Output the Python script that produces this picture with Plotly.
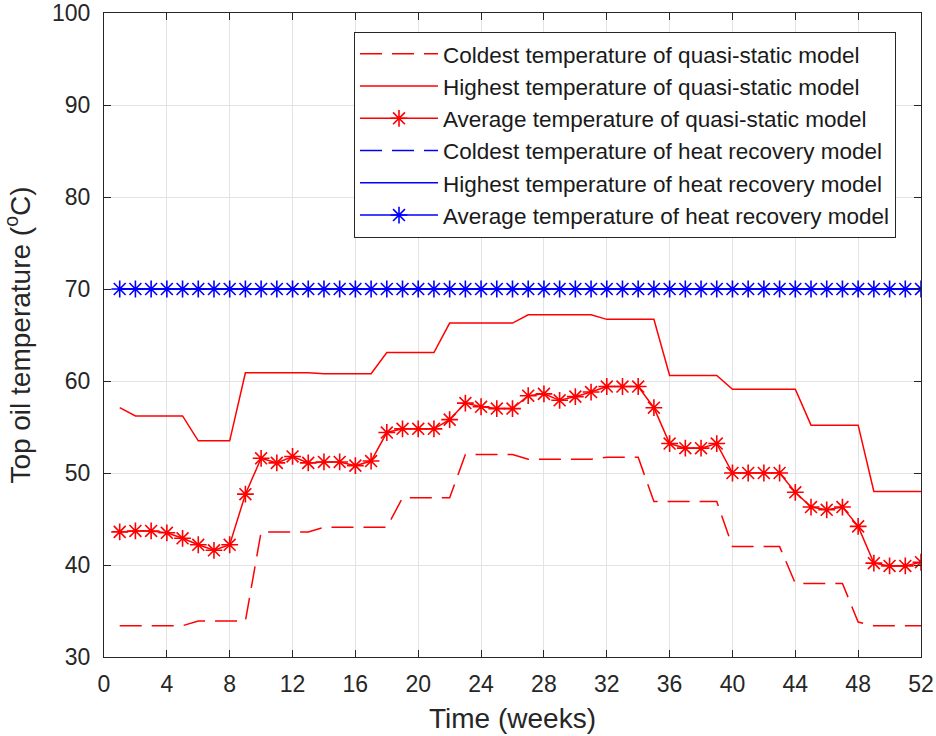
import plotly.graph_objects as go

weeks = [1, 2, 3, 4, 5, 6, 7, 8, 9, 10, 11, 12, 13, 14, 15, 16, 17, 18, 19, 20,
         21, 22, 23, 24, 25, 26, 27, 28, 29, 30, 31, 32, 33, 34, 35, 36, 37, 38, 39, 40,
         41, 42, 43, 44, 45, 46, 47, 48, 49, 50, 51, 52]

qs_coldest = [33.4, 33.4, 33.4, 33.4, 33.4, 33.9, 33.9, 33.9, 33.9, 43.6,
              43.6, 43.6, 43.6, 44.1, 44.1, 44.1, 44.1, 44.1, 47.3, 47.3,
              47.3, 47.3, 52.0, 52.0, 52.0, 52.0, 51.5, 51.5, 51.5, 51.5,
              51.5, 51.7, 51.7, 51.7, 46.9, 46.9, 46.9, 46.9, 46.9, 42.0,
              42.0, 42.0, 42.0, 38.0, 38.0, 38.0, 38.0, 33.8, 33.4, 33.4,
              33.4, 33.4]

qs_highest = [57.1, 56.2, 56.2, 56.2, 56.2, 53.5, 53.5, 53.5, 60.9, 60.9,
              60.9, 60.9, 60.9, 60.8, 60.8, 60.8, 60.8, 63.1, 63.1, 63.1,
              63.1, 66.3, 66.3, 66.3, 66.3, 66.3, 67.2, 67.2, 67.2, 67.2,
              67.2, 66.7, 66.7, 66.7, 66.7, 60.6, 60.6, 60.6, 60.6, 59.1,
              59.1, 59.1, 59.1, 59.1, 55.2, 55.2, 55.2, 55.2, 48.0, 48.0,
              48.0, 48.0]

qs_average = [43.6, 43.7, 43.7, 43.5, 42.9, 42.2, 41.6, 42.2, 47.7, 51.6,
              51.1, 51.8, 51.1, 51.2, 51.2, 50.8, 51.3, 54.4, 54.8, 54.8,
              54.8, 55.8, 57.6, 57.2, 57.0, 57.0, 58.4, 58.6, 57.9, 58.3,
              58.8, 59.4, 59.4, 59.4, 57.1, 53.2, 52.7, 52.7, 53.2, 50.0,
              50.0, 50.0, 50.0, 47.9, 46.3, 46.0, 46.3, 44.2, 40.2, 39.9,
              39.9, 40.3]

hr_coldest = [70, 70, 70, 70, 70, 70, 70, 70, 70, 70, 70, 70, 70, 70, 70, 70, 70, 70, 70, 70,
              70, 70, 70, 70, 70, 70, 70, 70, 70, 70, 70, 70, 70, 70, 70, 70, 70, 70, 70, 70,
              70, 70, 70, 70, 70, 70, 70, 70, 70, 70, 70, 70]
hr_highest = [70, 70, 70, 70, 70, 70, 70, 70, 70, 70, 70, 70, 70, 70, 70, 70, 70, 70, 70, 70,
              70, 70, 70, 70, 70, 70, 70, 70, 70, 70, 70, 70, 70, 70, 70, 70, 70, 70, 70, 70,
              70, 70, 70, 70, 70, 70, 70, 70, 70, 70, 70, 70]
hr_average = [70, 70, 70, 70, 70, 70, 70, 70, 70, 70, 70, 70, 70, 70, 70, 70, 70, 70, 70, 70,
              70, 70, 70, 70, 70, 70, 70, 70, 70, 70, 70, 70, 70, 70, 70, 70, 70, 70, 70, 70,
              70, 70, 70, 70, 70, 70, 70, 70, 70, 70, 70, 70]

names = [
    "Coldest temperature of quasi-static model",
    "Highest temperature of quasi-static model",
    "Average temperature of quasi-static model",
    "Coldest temperature of heat recovery model",
    "Highest temperature of heat recovery model",
    "Average temperature of heat recovery model",
]

x_ticks = [0, 4, 8, 12, 16, 20, 24, 28, 32, 36, 40, 44, 48, 52]
y_ticks = [30, 40, 50, 60, 70, 80, 90, 100]

RED = "#ff0000"
BLUE = "#0000ff"
DASH = "22px,10px"
FONT = "Liberation Sans, Arial, sans-serif"
TXT = "#262626"

fig = go.Figure()

series = [
    (qs_coldest, RED, DASH, False),
    (qs_highest, RED, "solid", False),
    (qs_average, RED, "solid", True),
    (hr_coldest, BLUE, DASH, False),
    (hr_highest, BLUE, "solid", False),
    (hr_average, BLUE, "solid", True),
]

for i, (vals, col, dash, star) in enumerate(series):
    fig.add_trace(go.Scatter(
        x=weeks, y=vals, name=names[i],
        mode="lines+markers" if star else "lines",
        line=dict(color=col, width=1.5, dash=dash),
        marker=dict(symbol="asterisk-open", size=14,
                    line=dict(color=col, width=1.6)) if star else None,
        legendgroup=f"g{i}",
    ))

fig.update_layout(
    width=936, height=736,
    margin=dict(l=104, r=15, t=13, b=79),
    paper_bgcolor="white", plot_bgcolor="white",
    font=dict(family=FONT, color=TXT, size=22),
    showlegend=True,
    legend=dict(
        x=0.306, y=0.971, xanchor="left", yanchor="top",
        bgcolor="white", bordercolor=TXT, borderwidth=1,
        font=dict(family=FONT, size=22.5, color="#1a1a1a"),
        tracegroupgap=0, traceorder="grouped",
        itemwidth=78,
    ),
    xaxis=dict(
        range=[0, 52], tickvals=x_ticks, ticktext=[str(v) for v in x_ticks],
        showgrid=True, gridcolor="#e3e3e3", gridwidth=1,
        showline=True, linecolor=TXT, linewidth=1.2, mirror="ticks",
        ticks="inside", ticklen=7, tickcolor=TXT,
        tickfont=dict(size=23, color=TXT), ticklabelstandoff=6,
        ticklabeloverflow="allow",
        title=dict(text="Time (weeks)", font=dict(size=28, color=TXT), standoff=12),
        zeroline=False, automargin=False,
    ),
    yaxis=dict(
        range=[30, 100], tickvals=y_ticks, ticktext=[str(v) for v in y_ticks],
        showgrid=True, gridcolor="#e3e3e3", gridwidth=1,
        showline=True, linecolor=TXT, linewidth=1.2, mirror="ticks",
        ticks="inside", ticklen=7, tickcolor=TXT,
        tickfont=dict(size=23, color=TXT), ticklabelstandoff=8,
        ticklabeloverflow="allow",
        title=dict(text="Top oil temperature (<sup>o</sup>C)", font=dict(size=28, color=TXT), standoff=13),
        zeroline=False, automargin=False,
    ),
)

# remove the browser's default 8px body margin so the 936x736 figure fills the window
fig.write_html(
    "out.html",
    config={"displayModeBar": False},
    post_script="document.body.style.margin='0';document.body.style.overflow='hidden';",
)
